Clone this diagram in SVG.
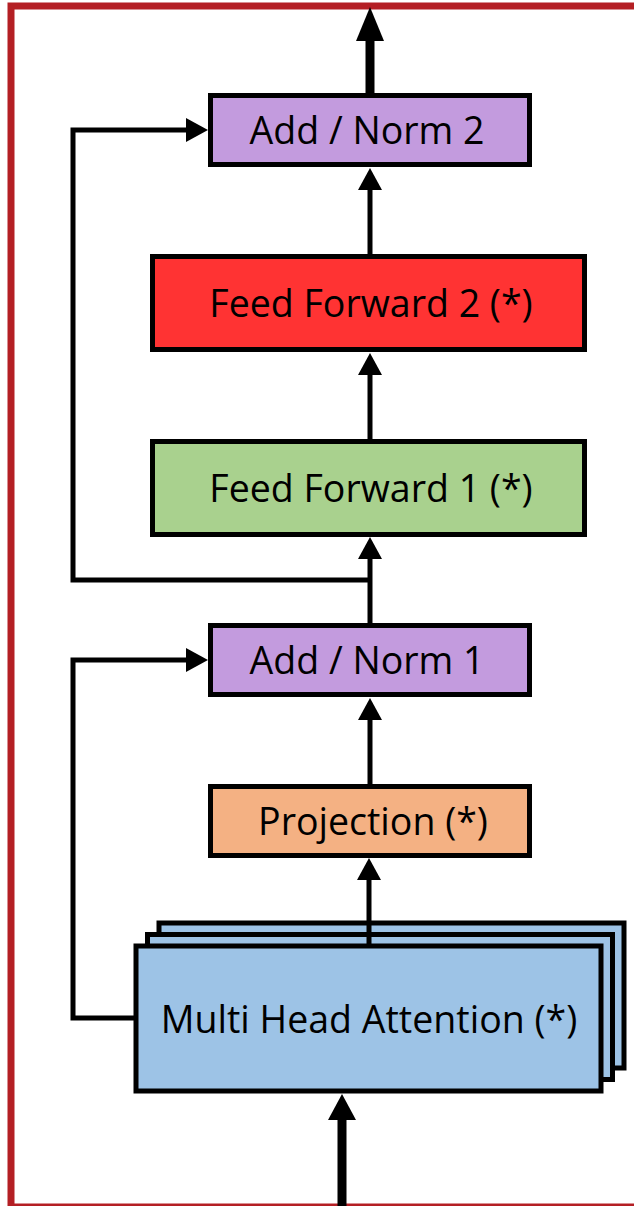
<svg xmlns="http://www.w3.org/2000/svg" width="634" height="1206" viewBox="0 0 634 1206">
  <defs>
    <style>
      .box { stroke: #000; stroke-width: 5; }
      .lbl { font-family: "Open Sans", "Noto Sans", sans-serif; font-size: 37.5px; fill: #000; text-anchor: middle; }
      .wire { fill: none; stroke: #000; stroke-width: 5; stroke-linejoin: miter; }
      .trunk { fill: none; stroke: #000; stroke-width: 9; }
      .purple { fill: #C39BDE; }
      .red { fill: #FF3333; }
      .green { fill: #A9D18E; }
      .orange { fill: #F4B183; }
      .blue { fill: #9DC3E6; }
    </style>
    <marker id="head" markerUnits="userSpaceOnUse" markerWidth="22" markerHeight="24" refX="0" refY="12" orient="auto" overflow="visible">
      <path d="M0,0 L22,12 L0,24 Z" fill="#000"/>
    </marker>
    <marker id="head-out" markerUnits="userSpaceOnUse" markerWidth="34" markerHeight="28" refX="0" refY="14" orient="auto" overflow="visible">
      <path d="M0,0 L34,14 L0,28 Z" fill="#000"/>
    </marker>
    <marker id="head-in" markerUnits="userSpaceOnUse" markerWidth="26" markerHeight="28" refX="0" refY="14" orient="auto" overflow="visible">
      <path d="M0,0 L26,14 L0,28 Z" fill="#000"/>
    </marker>
  </defs>

  <rect x="0" y="0" width="634" height="1206" fill="#fff"/>

  <!-- outer frame -->
  <rect x="11" y="6" width="700" height="1201" fill="none" stroke="#B41F24" stroke-width="7"/>

  <!-- blocks -->
  <g id="add-norm-2">
    <rect class="box purple" x="210.5" y="95.5" width="319" height="69"/>
    <text class="lbl" x="367" y="143.5">Add / Norm 2</text>
  </g>
  <g id="feed-forward-2">
    <rect class="box red" x="152.5" y="256.5" width="432" height="93"/>
    <text class="lbl" x="371" y="316.5">Feed Forward 2 (*)</text>
  </g>
  <g id="feed-forward-1">
    <rect class="box green" x="152.5" y="441.5" width="432" height="93"/>
    <text class="lbl" x="371" y="501.5">Feed Forward 1 (*)</text>
  </g>
  <g id="add-norm-1">
    <rect class="box purple" x="210.5" y="625.5" width="319" height="69"/>
    <text class="lbl" x="367" y="673.5">Add / Norm 1</text>
  </g>
  <g id="projection">
    <rect class="box orange" x="210.5" y="786.5" width="319" height="69"/>
    <text class="lbl" x="373" y="834.5">Projection (*)</text>
  </g>
  <g id="multi-head-attention">
    <rect class="box blue" x="159" y="923" width="465" height="145"/>
    <rect class="box blue" x="147.5" y="934.5" width="465" height="145"/>
    <rect class="box blue" x="136" y="946" width="465" height="145"/>
    <text class="lbl" x="369" y="1032.5">Multi Head Attention (*)</text>
  </g>

  <!-- connectors -->
  <g id="connectors">
    <line class="trunk" x1="370" y1="93" x2="370" y2="41" marker-end="url(#head-out)"/>
    <line class="wire" x1="370" y1="256" x2="370" y2="190" marker-end="url(#head)"/>
    <line class="wire" x1="370" y1="441" x2="370" y2="375" marker-end="url(#head)"/>
    <line class="wire" x1="370" y1="625" x2="370" y2="559" marker-end="url(#head)"/>
    <line class="wire" x1="370" y1="786" x2="370" y2="720" marker-end="url(#head)"/>
    <line class="wire" x1="369" y1="946" x2="369" y2="880" marker-end="url(#head)"/>
    <path class="wire" d="M370,580 H73 V130 H186" marker-end="url(#head)"/>
    <path class="wire" d="M136,1018 H73 V660 H186" marker-end="url(#head)"/>
    <line class="trunk" x1="342" y1="1210" x2="342" y2="1120" marker-end="url(#head-in)"/>
  </g>
</svg>
